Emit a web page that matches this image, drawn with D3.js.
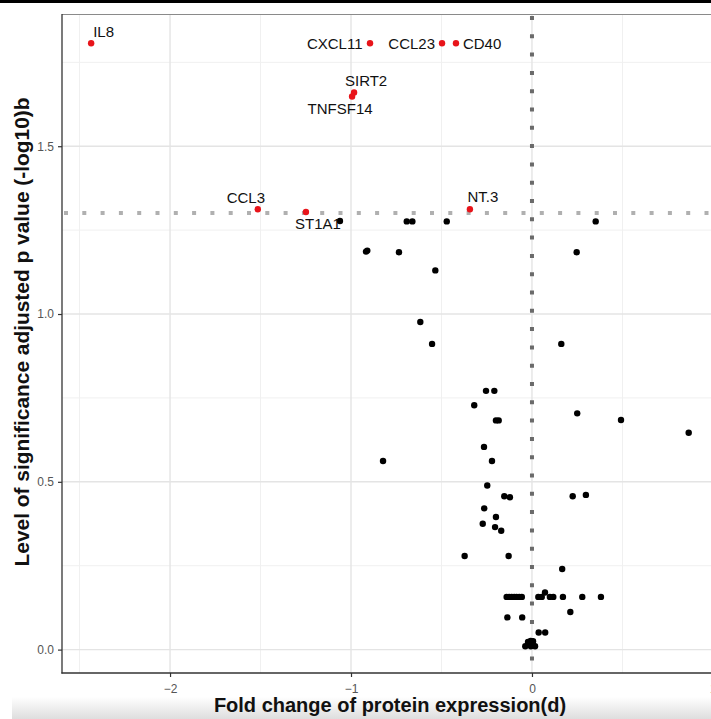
<!DOCTYPE html>
<html>
<head>
<meta charset="utf-8">
<script src="https://cdn.jsdelivr.net/npm/d3@7/dist/d3.min.js"></script>
<style>
  html, body { margin: 0; padding: 0; background: #fff; }
  svg { display: block; }
</style>
</head>
<body>
<div id="chart"></div>
<script>
// ---------------- DATA ----------------
const xTicks = [-2, -1, 0, 1];
const yTicks = [0, 0.5, 1.0, 1.5];
const xMinor = [-2.5, -1.5, -0.5, 0.5];
const yMinor = [0.25, 0.75, 1.25, 1.75];
const xTitle = "Fold change of protein expression(d)";
const yTitle = "Level of significance adjusted p value (-log10)b";
const sigThreshold = 1.301; // -log10(0.05)

// significant (labelled, red) proteins
const sigNames = ["IL8", "CXCL11", "CCL23", "CD40", "SIRT2", "TNFSF14", "CCL3", "ST1A1", "NT.3"];
const sigFold  = [-2.436, -0.895, -0.497, -0.420, -0.983, -0.994, -1.515, -1.249, -0.343];
const sigLogP  = [1.807, 1.807, 1.807, 1.807, 1.660, 1.648, 1.312, 1.304, 1.312];

// non-significant proteins (black)
const nsFold = [
  -1.061, -0.692, -0.661, -0.471, 0.352,
  -0.917, -0.910, -0.735, -0.534, 0.247,
  -0.617, -0.552, 0.162,
  -0.254, -0.208, -0.319, 0.250, 0.492, 0.866, -0.199, -0.184,
  -0.823, -0.265, -0.221, -0.247, -0.153, -0.122, 0.225, 0.298,
  -0.264, -0.199, -0.272, -0.204, -0.170,
  -0.372, -0.129, 0.167,
  -0.140, -0.126, -0.112, -0.098, -0.085, -0.070, -0.056,
  0.035, 0.054, 0.072, 0.099, 0.118, 0.171, 0.278, 0.381,
  0.212, -0.136, -0.054, 0.037, 0.073,
  -0.037, -0.022, -0.007, 0.007, 0.017, -0.006, 0.006
];
const nsLogP = [
  1.277, 1.276, 1.276, 1.276, 1.276,
  1.186, 1.189, 1.184, 1.130, 1.184,
  0.976, 0.911, 0.911,
  0.771, 0.771, 0.728, 0.704, 0.684, 0.646, 0.683, 0.683,
  0.562, 0.604, 0.562, 0.489, 0.457, 0.454, 0.457, 0.461,
  0.421, 0.395, 0.375, 0.365, 0.354,
  0.279, 0.279, 0.240,
  0.157, 0.157, 0.157, 0.157, 0.157, 0.157, 0.157,
  0.157, 0.157, 0.170, 0.157, 0.157, 0.157, 0.157, 0.157,
  0.112, 0.096, 0.096, 0.051, 0.051,
  0.010, 0.023, 0.026, 0.013, 0.010, 0.010, 0.025
];

// ---------------- LAYOUT / STYLE ----------------
const W = 711, H = 719;
const panel = { left: 62, top: 14, right: 720, bottom: 673 };
const labelPlace = { // dx, dy, anchor (px offsets from the point)
  "IL8":     [2, -6.5, "start"],
  "CXCL11":  [-7.5, 5.8, "end"],
  "CCL23":   [-7, 5.8, "end"],
  "CD40":    [7, 5.8, "start"],
  "SIRT2":   [12, -6.5, "middle"],
  "TNFSF14": [-12, 17, "middle"],
  "CCL3":    [-12, -6.5, "middle"],
  "ST1A1":   [12, 17.5, "middle"],
  "NT.3":    [13, -7, "middle"]
};

const x = d3.scaleLinear().domain([-2.597, 1.039]).range([panel.left, panel.right]);
const y = d3.scaleLinear().domain([-0.0697, 1.894]).range([panel.bottom, panel.top]);

const svg = d3.select("#chart").append("svg")
  .attr("width", W).attr("height", H)
  .style("font-family", "'Liberation Sans', Arial, Helvetica, sans-serif");

// background
svg.append("rect").attr("width", W).attr("height", H).attr("fill", "#fff");

// bottom screenshot shading
const defs = svg.append("defs");
const grad = defs.append("linearGradient").attr("id", "shade").attr("x1", 0).attr("y1", 0).attr("x2", 0).attr("y2", 1);
grad.append("stop").attr("offset", "0%").attr("stop-color", "#ffffff");
grad.append("stop").attr("offset", "100%").attr("stop-color", "#dedede");
svg.append("rect").attr("x", 12).attr("y", 697).attr("width", W - 12).attr("height", H - 697).attr("fill", "url(#shade)");

// top black bar
svg.append("rect").attr("x", 0).attr("y", 0).attr("width", W).attr("height", 3).attr("fill", "#000");

defs.append("clipPath").attr("id", "pclip").append("rect")
  .attr("x", panel.left).attr("y", panel.top)
  .attr("width", panel.right - panel.left).attr("height", panel.bottom - panel.top);

const g = svg.append("g").attr("clip-path", "url(#pclip)");

// minor grid
g.selectAll(".vminor").data(xMinor).join("line")
  .attr("x1", d => x(d)).attr("x2", d => x(d))
  .attr("y1", panel.top).attr("y2", panel.bottom)
  .attr("stroke", "#f0f0f0").attr("stroke-width", 1);
g.selectAll(".hminor").data(yMinor).join("line")
  .attr("y1", d => y(d)).attr("y2", d => y(d))
  .attr("x1", panel.left).attr("x2", panel.right)
  .attr("stroke", "#f0f0f0").attr("stroke-width", 1);
// major grid
g.selectAll(".vmajor").data(xTicks).join("line")
  .attr("x1", d => x(d)).attr("x2", d => x(d))
  .attr("y1", panel.top).attr("y2", panel.bottom)
  .attr("stroke", "#e4e4e4").attr("stroke-width", 1.4);
g.selectAll(".hmajor").data(yTicks).join("line")
  .attr("y1", d => y(d)).attr("y2", d => y(d))
  .attr("x1", panel.left).attr("x2", panel.right)
  .attr("stroke", "#e4e4e4").attr("stroke-width", 1.4);

// threshold lines
g.append("line")
  .attr("x1", panel.left).attr("x2", panel.right)
  .attr("y1", y(sigThreshold)).attr("y2", y(sigThreshold))
  .attr("stroke", "#b0b0b0").attr("stroke-width", 4)
  .attr("stroke-dasharray", "4,14.3").attr("stroke-dashoffset", -2);
g.append("line")
  .attr("x1", x(0)).attr("x2", x(0))
  .attr("y1", panel.top).attr("y2", panel.bottom)
  .attr("stroke", "#6a6a6a").attr("stroke-width", 4)
  .attr("stroke-dasharray", "4,14.3").attr("stroke-dashoffset", -2);

// top border of panel
svg.append("line").attr("x1", panel.left).attr("x2", W)
  .attr("y1", panel.top + 0.5).attr("y2", panel.top + 0.5)
  .attr("stroke", "#8a8a8a").attr("stroke-width", 1);

// axes
const xAxis = d3.axisBottom(x).tickValues(xTicks).tickSize(4).tickPadding(7)
  .tickFormat(d3.format("d"));
const yAxis = d3.axisLeft(y).tickValues(yTicks).tickSize(4).tickPadding(4)
  .tickFormat(d3.format(".1f"));

const gx = svg.append("g").attr("transform", `translate(0,${panel.bottom})`).call(xAxis);
const gy = svg.append("g").attr("transform", `translate(${panel.left},0)`).call(yAxis);
[gx, gy].forEach(a => {
  a.select(".domain").remove();
  a.selectAll(".tick line").attr("stroke", "#333").attr("stroke-width", 1.2);
  a.selectAll(".tick text").attr("fill", "#555").attr("font-size", 12)
    .attr("font-family", "'Liberation Sans', Arial, sans-serif");
});
// axis lines
svg.append("line").attr("x1", panel.left).attr("x2", panel.left)
  .attr("y1", panel.top).attr("y2", panel.bottom + 0.6)
  .attr("stroke", "#333").attr("stroke-width", 1.3);
svg.append("line").attr("x1", panel.left - 0.6).attr("x2", W)
  .attr("y1", panel.bottom).attr("y2", panel.bottom)
  .attr("stroke", "#333").attr("stroke-width", 1.3);

// points
const ns = nsFold.map((v, i) => ({ fc: v, lp: nsLogP[i] }));
const sig = sigNames.map((n, i) => ({ name: n, fc: sigFold[i], lp: sigLogP[i] }));

g.selectAll(".ns").data(ns).join("circle")
  .attr("cx", d => x(d.fc)).attr("cy", d => y(d.lp)).attr("r", 3.2)
  .attr("fill", "#000");
g.selectAll(".sig").data(sig).join("circle")
  .attr("cx", d => x(d.fc)).attr("cy", d => y(d.lp)).attr("r", 3.2)
  .attr("fill", "#e8141a");

// labels
svg.selectAll(".lab").data(sig).join("text")
  .attr("x", d => x(d.fc) + labelPlace[d.name][0])
  .attr("y", d => y(d.lp) + labelPlace[d.name][1])
  .attr("text-anchor", d => labelPlace[d.name][2])
  .attr("font-size", 15).attr("fill", "#111")
  .text(d => d.name);

// axis titles
svg.append("text")
  .attr("x", 390).attr("y", 712)
  .attr("text-anchor", "middle")
  .attr("font-size", 20).attr("font-weight", "bold").attr("fill", "#111")
  .text(xTitle);
svg.append("text")
  .attr("transform", `translate(29,332) rotate(-90)`)
  .attr("text-anchor", "middle")
  .attr("font-size", 20.9).attr("font-weight", "bold").attr("fill", "#111")
  .text(yTitle);
</script>
</body>
</html>
